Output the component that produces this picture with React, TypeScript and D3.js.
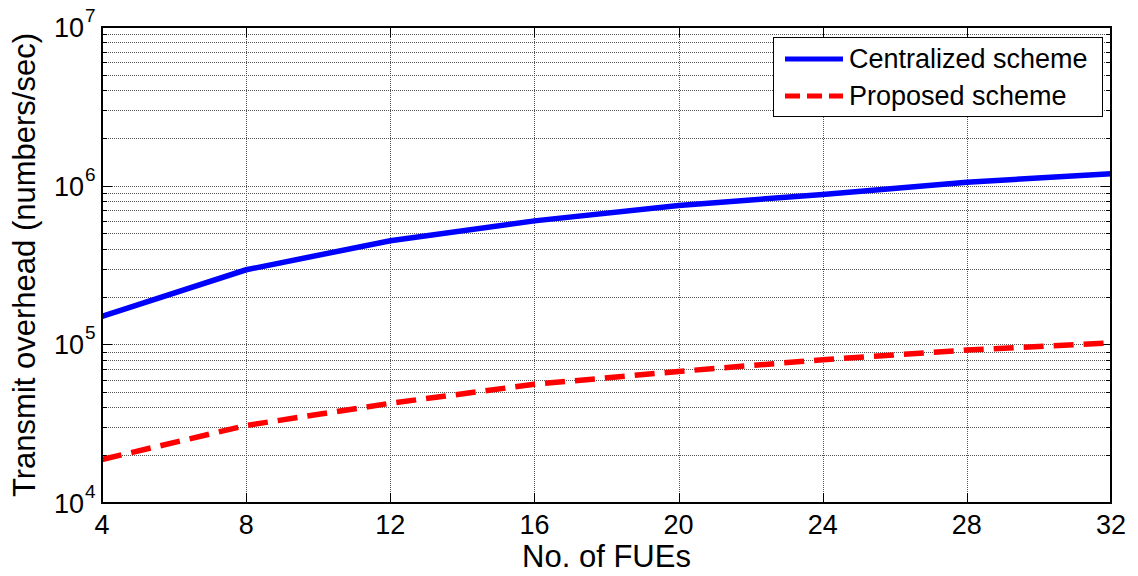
import * as d3 from 'd3';
import React from 'react';

const fues = [4, 8, 12, 16, 20, 24, 28, 32];
const centralized = [1.5e5, 2.95e5, 4.5e5, 6.0e5, 7.5e5, 8.8e5, 1.05e6, 1.19e6];
const proposed = [1.88e4, 3.08e4, 4.25e4, 5.6e4, 6.75e4, 8.0e4, 9.2e4, 1.02e5];
const xTicks = [4, 8, 12, 16, 20, 24, 28, 32];
const yDecades = [4, 5, 6, 7];
const seriesNames = ['Centralized scheme', 'Proposed scheme'];

const W = 1138;
const H = 576;
const margin = { top: 27, right: 27, bottom: 73, left: 102 };
const font = 'Arial, "Liberation Sans", Helvetica, sans-serif';

const App: React.FC = () => {
  const x = d3
    .scaleLinear()
    .domain([4, 32])
    .range([margin.left, W - margin.right]);
  const y = d3
    .scaleLog()
    .domain([1e4, 1e7])
    .range([H - margin.bottom, margin.top]);

  const crisp = (v: number) => Math.round(v) + 0.5;
  const x0 = x.range()[0];
  const x1 = x.range()[1];
  const y0 = y.range()[0];
  const y1 = y.range()[1];

  // minor values 2..9 per decade
  const minor: number[] = [];
  yDecades.slice(0, -1).forEach((e) => {
    for (let k = 2; k <= 9; k++) minor.push(k * Math.pow(10, e));
  });

  const line = d3
    .line<number>()
    .x((_, i) => x(fues[i]))
    .y((d) => y(d));

  const gridStyle = { stroke: '#555', strokeWidth: 1, strokeDasharray: '1,1' };

  return (
    <svg width={W} height={H} style={{ position: 'absolute', left: 0, top: 0 }} fontFamily={font}>
      <rect x={0} y={0} width={W} height={H} fill="#fff" />
      {/* grid */}
      {xTicks.slice(1, -1).map((t) => (
        <line key={'gx' + t} x1={crisp(x(t))} x2={crisp(x(t))} y1={y1} y2={y0} {...gridStyle} />
      ))}
      {[...yDecades.slice(1, -1).map((e) => Math.pow(10, e)), ...minor].map((v) => (
        <line key={'gy' + v} x1={x0} x2={x1} y1={crisp(y(v))} y2={crisp(y(v))} {...gridStyle} />
      ))}
      {/* ticks */}
      {xTicks.map((t) => (
        <g key={'tx' + t}>
          <line x1={crisp(x(t))} x2={crisp(x(t))} y1={y0} y2={y0 - 10} stroke="#000" strokeWidth={1} />
          <line x1={crisp(x(t))} x2={crisp(x(t))} y1={y1} y2={y1 + 10} stroke="#000" strokeWidth={1} />
          <text x={x(t)} y={y0 + 31} textAnchor="middle" fontSize={27}>
            {t}
          </text>
        </g>
      ))}
      {yDecades.map((e) => {
        const v = Math.pow(10, e);
        return (
          <g key={'ty' + e}>
            <line x1={x0} x2={x0 + 10} y1={crisp(y(v))} y2={crisp(y(v))} stroke="#000" />
            <line x1={x1} x2={x1 - 10} y1={crisp(y(v))} y2={crisp(y(v))} stroke="#000" />
            <text x={84} y={y(v) + 10} textAnchor="end" fontSize={27}>
              10
            </text>
            <text x={85} y={y(v) - 5} fontSize={19}>
              {e}
            </text>
          </g>
        );
      })}
      {minor.map((v) => (
        <g key={'my' + v}>
          <line x1={x0} x2={x0 + 5} y1={crisp(y(v))} y2={crisp(y(v))} stroke="#000" />
          <line x1={x1} x2={x1 - 5} y1={crisp(y(v))} y2={crisp(y(v))} stroke="#000" />
        </g>
      ))}
      {/* series */}
      <path d={line(centralized) || ''} fill="none" stroke="#0000ff" strokeWidth={5.5} />
      <path
        d={line(proposed) || ''}
        fill="none"
        stroke="#ff0000"
        strokeWidth={5.5}
        strokeDasharray="20,10"
      />
      {/* axes box */}
      <rect x={x0} y={y1} width={x1 - x0} height={y0 - y1} fill="none" stroke="#000" strokeWidth={2} />
      {/* labels */}
      <text x={(x0 + x1) / 2} y={567} textAnchor="middle" fontSize={31}>
        No. of FUEs
      </text>
      <text
        transform={`translate(35,${(y0 + y1) / 2}) rotate(-90)`}
        textAnchor="middle"
        fontSize={31}
      >
        Transmit overhead (numbers/sec)
      </text>
      {/* legend */}
      <rect x={773.5} y={37.5} width={329} height={79} fill="#fff" stroke="#000" strokeWidth={1} />
      {seriesNames.map((name, i) => (
        <g key={name}>
          <line
            x1={785}
            x2={843}
            y1={59 + i * 37}
            y2={59 + i * 37}
            stroke={i === 0 ? '#0000ff' : '#ff0000'}
            strokeWidth={5}
            strokeDasharray={i === 0 ? undefined : '15,7'}
          />
          <text x={849} y={68 + i * 37} fontSize={27}>
            {name}
          </text>
        </g>
      ))}
    </svg>
  );
};

export default App;
